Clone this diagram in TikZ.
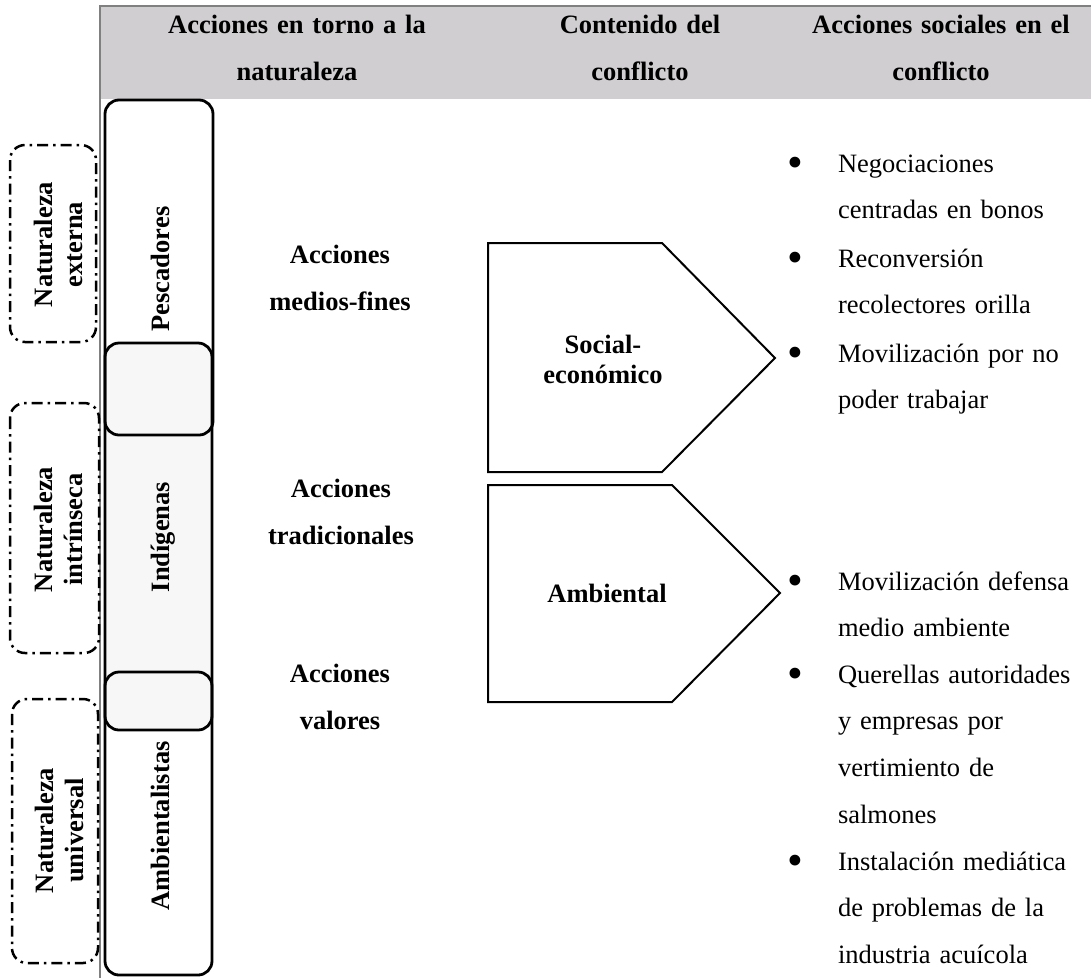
\documentclass[tikz,border=0pt]{standalone}
\usepackage{fontspec}
\setmainfont{Liberation Serif}
\usetikzlibrary{positioning}

\definecolor{headgray}{RGB}{208,206,208}
\definecolor{rulegray}{RGB}{128,128,128}
\definecolor{boxgray}{RGB}{247,247,247}

\newcommand{\itembullet}{\llap{\raisebox{-5pt}{\scalebox{1.7}{\textbullet}}\hspace{35pt}}}

\begin{document}
\begin{tikzpicture}[x=1pt,y=-1pt,line width=2pt,
  every node/.style={inner sep=0pt,outer sep=0pt},
  head/.style={font=\bfseries\fontsize{26.5}{47}\selectfont,text width=300pt,align=center,anchor=base},
  tight/.style={font=\bfseries\fontsize{26.5}{30.5}\selectfont,text width=250pt,align=center,anchor=base},
  item/.style={font=\fontsize{26.5}{46.7}\selectfont,text width=250pt,align=left,anchor=base west},
  colbox/.style={draw,line width=2.8pt,rounded corners=14pt},
  natbox/.style={draw,line width=2.5pt,rounded corners=15pt,dash pattern=on 11pt off 5pt on 2.5pt off 5pt},
  pointer/.style={draw,line width=2pt,line join=miter}]
  \useasboundingbox (0,0) rectangle (1091,978);

  \fill[headgray] (100,7) rectangle (1091,99);
  \draw[rulegray,line width=2.5pt] (99,6) -- (1091,6);
  \draw[rulegray,line width=2pt] (99.5,5) -- (99.5,978);

  \node (hnature)   [head] at (297,33) {Acciones en torno a la\\naturaleza};
  \node (hcontent)  [head] at (640,33) {Contenido del\\conflicto};
  \node (hsocial)   [head] at (941,33) {Acciones sociales en el\\conflicto};

  \draw[natbox] (10,145) rectangle (96,342);
  \draw[natbox] (10,403) rectangle (99,653);
  \draw[natbox] (12,699) rectangle (98,963);
  \node (nexterna)  [tight,rotate=90] at (52,244.5) {Naturaleza\\externa};
  \node (nintrin)   [tight,rotate=90] at (52,529.5) {Naturaleza\\intrínseca};
  \node (nuniver)   [tight,rotate=90] at (53,830.5) {Naturaleza\\universal};

  \fill[boxgray,rounded corners=14pt] (105,343) rectangle (212,730);
  \draw[colbox] (105,100) rectangle (213,435);
  \draw[colbox] (105,343) rectangle (212,730);
  \draw[colbox] (105,672) rectangle (212,975);
  \node (pescadores) [font=\bfseries\fontsize{26.5}{30}\selectfont,rotate=90,anchor=base] at (169,269) {Pescadores};
  \node (indigenas)  [font=\bfseries\fontsize{26.5}{30}\selectfont,rotate=90,anchor=base] at (169,537) {Indígenas};
  \node (ambient)    [font=\bfseries\fontsize{26.5}{30}\selectfont,rotate=90,anchor=base] at (169,826) {Ambientalistas};

  \node (amedios)   [head,text width=200pt] at (340,263) {Acciones\\medios-fines};
  \node (atradic)   [head,text width=200pt] at (341,497) {Acciones\\tradicionales};
  \node (avalores)  [head,text width=200pt] at (340,682) {Acciones\\valores};

  \draw[pointer] (488,243) -- (662,243) -- (775,358) -- (662,472) -- (488,472) -- cycle;
  \draw[pointer] (488,485) -- (672,485) -- (780,593) -- (672,702) -- (488,702) -- cycle;
  \node (socioeco)  [tight,text width=200pt] at (603,353) {Social-\\económico};
  \node (ambiental) [tight,text width=200pt] at (607,602) {Ambiental};

  \node (negocia)   [item] at (838,172) {\itembullet Negociaciones\\centradas en bonos};
  \node (reconv)    [item] at (838,267) {\itembullet Reconversión\\recolectores orilla};
  \node (movtrab)   [item] at (838,362) {\itembullet Movilización por no\\poder trabajar};
  \node (movdef)    [item] at (838,590) {\itembullet Movilización defensa\\medio ambiente};
  \node (querella)  [item] at (838,683) {\itembullet Querellas autoridades\\y empresas por\\vertimiento de\\salmones};
  \node (instala)   [item] at (838,870) {\itembullet Instalación mediática\\de problemas de la\\industria acuícola};
\end{tikzpicture}
\end{document}
